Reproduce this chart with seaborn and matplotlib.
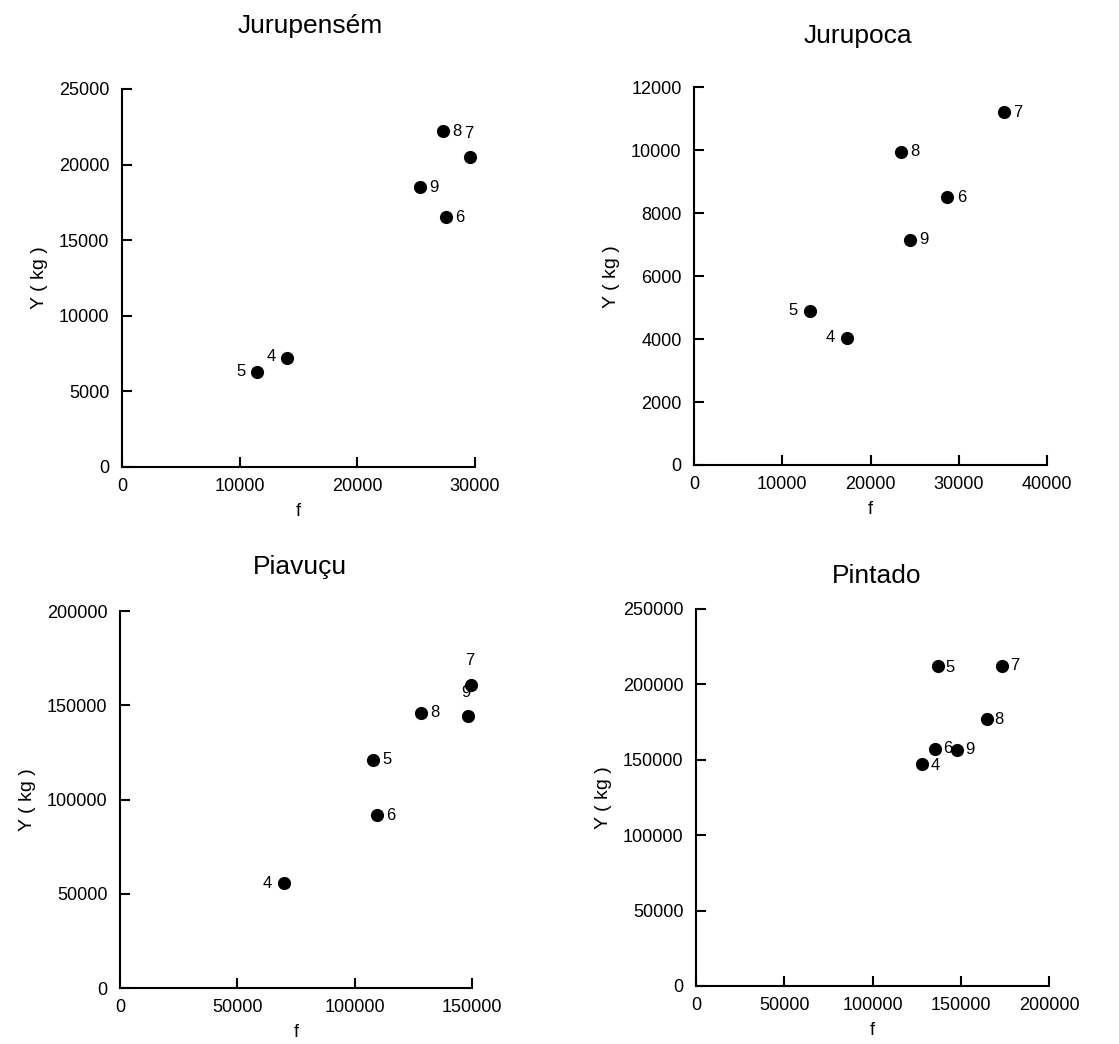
import matplotlib
matplotlib.use("Agg")
import matplotlib.pyplot as plt
import seaborn as sns

# Data (age class labels 4..9)
titles = ["Jurupensém", "Jurupoca", "Piavuçu", "Pintado"]

jurupensem_lab = ["4", "5", "6", "7", "8", "9"]
jurupensem_f = [14000, 11500, 27500, 29600, 27300, 25300]
jurupensem_y = [7200, 6300, 16500, 20500, 22200, 18500]

jurupoca_lab = ["4", "5", "6", "7", "8", "9"]
jurupoca_f = [17300, 13100, 28700, 35100, 23400, 24500]
jurupoca_y = [4050, 4900, 8500, 11200, 9950, 7150]

piavucu_lab = ["4", "5", "6", "7", "8", "9"]
piavucu_f = [69700, 108000, 109500, 149600, 128400, 148500]
piavucu_y = [55700, 121000, 91600, 161000, 146100, 144100]

pintado_lab = ["4", "5", "6", "7", "8", "9"]
pintado_f = [128200, 137000, 135400, 173400, 164600, 148000]
pintado_y = [147300, 212000, 157300, 212400, 177000, 156600]

x_max = [30000, 40000, 150000, 200000]
x_step = [10000, 10000, 50000, 50000]
y_max = [25000, 12000, 200000, 250000]
y_step = [5000, 2000, 50000, 50000]

sns.set_style("ticks")
plt.rcParams["font.family"] = ["Liberation Sans", "DejaVu Sans"]

fig = plt.figure(figsize=(11.19, 10.44), dpi=100)

# axes rectangles (left, bottom, width, height) in figure fractions
rects = [
    (0.1090, 0.5527, 0.3155, 0.3621),
    (0.6202, 0.5546, 0.3157, 0.3618),
    (0.1072, 0.0536, 0.3146, 0.3611),
    (0.6220, 0.0556, 0.3157, 0.3611),
]
title_x = [0.533, 0.465, 0.511, 0.512]
title_pad = [40, 32, 27, 19]

# label offsets in points (dx, dy) per point, same order as labels
offsets = [
    [(-11, 1), (-12, 0), (10, 0), (-1, 17), (10, 0), (10, 0)],
    [(-12, 0), (-12, 0), (10, 0), (10, 0), (10, 0), (10, 0)],
    [(-12, 0), (10, 0), (10, 0), (-1, 17), (10, 0), (-2, 17)],
    [(9, -1), (9, -1), (9, 0), (9, 0), (9, 0), (9, 0)],
]

datasets = [
    (jurupensem_f, jurupensem_y, jurupensem_lab),
    (jurupoca_f, jurupoca_y, jurupoca_lab),
    (piavucu_f, piavucu_y, piavucu_lab),
    (pintado_f, pintado_y, pintado_lab),
]

for i, (fx, fy, labs) in enumerate(datasets):
    ax = fig.add_axes(rects[i])
    sns.scatterplot(x=fx, y=fy, ax=ax, color="black", s=90,
                    edgecolor="black", linewidth=0, zorder=3, clip_on=False)
    for xv, yv, lab, (dx, dy) in zip(fx, fy, labs, offsets[i]):
        ax.annotate(lab, (xv, yv), xytext=(dx, dy), textcoords="offset points",
                    ha="center", va="center", fontsize=12, color="black")

    ax.set_xlim(0, x_max[i])
    ax.set_ylim(0, y_max[i])
    ax.set_xticks(range(0, x_max[i] + 1, x_step[i]))
    ax.set_yticks(range(0, y_max[i] + 1, y_step[i]))
    ax.tick_params(direction="in", length=7, width=1.5, labelsize=13,
                   colors="black")
    ax.tick_params(axis="x", pad=8)
    ax.tick_params(axis="y", pad=9)
    sns.despine(ax=ax)
    for side in ["left", "bottom"]:
        ax.spines[side].set_linewidth(1.5)
        ax.spines[side].set_color("black")

    ax.set_xlabel("f", fontsize=13, labelpad=6, color="black")
    ax.set_ylabel("Y ( kg )", fontsize=14, labelpad=8, color="black")
    ax.set_title(titles[i], fontsize=19, x=title_x[i], pad=title_pad[i],
                 color="black")

fig.savefig("out.png", dpi=100)
